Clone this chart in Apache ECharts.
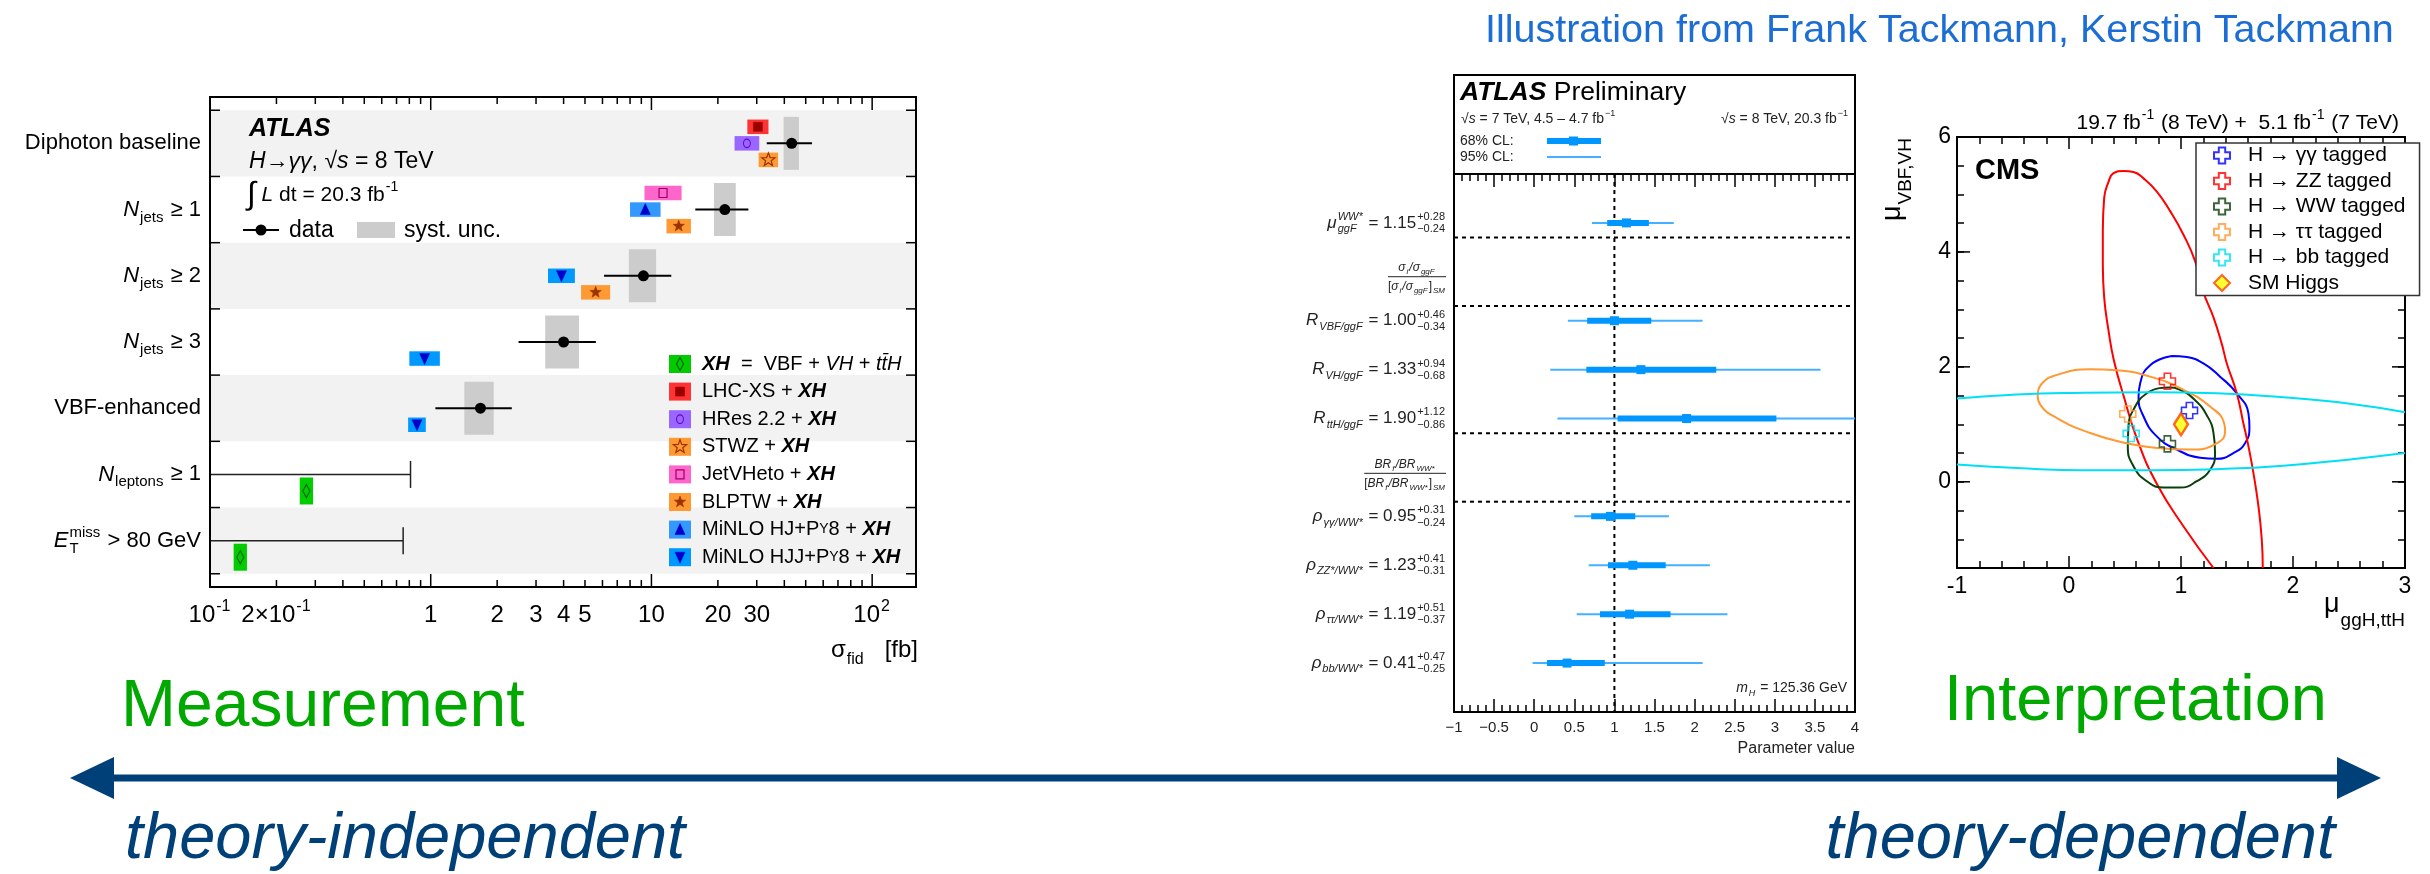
<!DOCTYPE html>
<html>
<head>
<meta charset="utf-8">
<script src="https://cdn.jsdelivr.net/npm/echarts@6/dist/echarts.min.js"></script>
<style>
  html, body { margin: 0; padding: 0; background: #fff; }
  #chart { width: 2430px; height: 874px; }
</style>
</head>
<body>
<div id="chart"></div>
<script>
const FF = '"Liberation Sans", Arial, sans-serif';

// ---------- left: ATLAS H->γγ fiducial cross sections ----------
const fidXMin = 0.1, fidXMax = 158;
const fidRowLabels = [
  ['Diphoton baseline'],
  [{t: 'N', it: 1, sub: 'jets'}, ' ≥ 1'],
  [{t: 'N', it: 1, sub: 'jets'}, ' ≥ 2'],
  [{t: 'N', it: 1, sub: 'jets'}, ' ≥ 3'],
  ['VBF-enhanced'],
  [{t: 'N', it: 1, sub: 'leptons'}, ' ≥ 1'],
  [{t: 'E', it: 1, sup: 'miss', sub: 'T'}, ' > 80 GeV']
];
const fidValue  = [43.2, 21.5, 9.2, 4.0, 1.68, null, null];
const fidTotLo  = [33.3, 15.8, 6.1, 2.5, 1.05, null, null];
const fidTotHi  = [53.4, 27.5, 12.3, 5.6, 2.33, null, null];
const fidSystLo = [39.7, 19.2, 7.9, 3.3, 1.42, null, null];
const fidSystHi = [46.6, 24.1, 10.5, 4.7, 1.93, null, null];
const fidLimit  = [null, null, null, null, null, 0.81, 0.75];

// theory predictions: row, model, low, high
const thModels = ['XH', 'LHC-XS', 'HRes 2.2', 'STWZ', 'JetVHeto', 'BLPTW', 'MiNLO HJ+PY8', 'MiNLO HJJ+PY8'];
const thRow   = [0, 0, 0, 1, 1, 1, 2, 2, 3, 4, 5, 6];
const thModel = [1, 2, 3, 4, 6, 5, 7, 5, 7, 7, 0, 0];
const thLo = [27.2, 23.8, 30.6, 9.3, 8.0, 11.7, 3.4, 4.8, 0.80, 0.79, 0.255, 0.128];
const thHi = [33.9, 30.8, 37.5, 13.7, 11.0, 15.1, 4.5, 6.5, 1.10, 0.95, 0.293, 0.147];

const fidTickVals = [0.1, 0.2, 1, 2, 3, 4, 5, 10, 20, 30, 100];
const fidTickText = [['10', {sup: '-1'}], ['2×10', {sup: '-1'}], ['1'], ['2'], ['3'], ['4'], ['5'],
                     ['10'], ['20'], ['30'], ['10', {sup: '2'}]];

// ---------- middle: ATLAS coupling ratios ----------
const cplNames = [
  [{t: 'μ', it: 1, sup: 'WW*', sub: 'ggF', si: 1}],
  [{t: 'R', it: 1, sub: 'VBF/ggF', si: 1}],
  [{t: 'R', it: 1, sub: 'VH/ggF', si: 1}],
  [{t: 'R', it: 1, sub: 'ttH/ggF', si: 1}],
  [{t: 'ρ', it: 1, sub: 'γγ/WW*', si: 1}],
  [{t: 'ρ', it: 1, sub: 'ZZ*/WW*', si: 1}],
  [{t: 'ρ', it: 1, sub: 'ττ/WW*', si: 1}],
  [{t: 'ρ', it: 1, sub: 'bb/WW*', si: 1}]
];
const cplRow   = [1, 3, 4, 5, 7, 8, 9, 10];
const cplValue = [1.15, 1.00, 1.33, 1.90, 0.95, 1.23, 1.19, 0.41];
const cplErrUp = [0.28, 0.46, 0.94, 1.12, 0.31, 0.41, 0.51, 0.47];
const cplErrDn = [0.24, 0.34, 0.68, 0.86, 0.24, 0.31, 0.37, 0.25];
const cpl95Lo  = [0.72, 0.42, 0.20, 0.29, 0.50, 0.68, 0.53, -0.02];
const cpl95Hi  = [1.74, 2.10, 3.57, 4.30, 1.68, 2.19, 2.41, 2.10];
const cplSeparators = [1.3, 2.7, 5.3, 6.7];
const cplSectionY = [2.1, 6.12];
const cplSectionNum = [
  [{t: 'σ', it: 1, sub: 'i', si: 1}, {t: '/σ', it: 1, sub: 'ggF', si: 1}],
  [{t: 'BR', it: 1, sub: 'f', si: 1}, {t: '/BR', it: 1, sub: 'WW*', si: 1}]
];
const cplSectionDen = [
  ['[', {t: 'σ', it: 1, sub: 'i', si: 1}, {t: '/σ', it: 1, sub: 'ggF', si: 1}, {t: ']', sub: 'SM', si: 1}],
  ['[', {t: 'BR', it: 1, sub: 'f', si: 1}, {t: '/BR', it: 1, sub: 'WW*', si: 1}, {t: ']', sub: 'SM', si: 1}]
];

// ---------- right: CMS μ(ggH,ttH) vs μ(VBF,VH) ----------
const cmsNames = ['H → γγ tagged', 'H → ZZ tagged', 'H → WW tagged', 'H → ττ tagged', 'H → bb tagged'];
const cmsBestX = [1.076, 0.879, 0.879, 0.525, 0.555];
const cmsBestY = [1.24, 1.75, 0.66, 1.18, 0.84];
const cmsGG = [[0.918,2.19],[1.052,2.17],[1.200,2.06],[1.349,1.83],[1.498,1.54],[1.602,1.19],[1.611,0.96],
  [1.572,0.67],[1.468,0.50],[1.319,0.40],[1.171,0.42],[0.963,0.56],[0.784,0.79],[0.665,1.14],[0.621,1.48],
  [0.635,1.71],[0.725,2.03],[0.918,2.19]];
const cmsZZ = [[1.29,-1.50],[1.02,-0.77],[0.78,-0.02],[0.61,0.73],[0.49,1.48],[0.40,2.12],[0.353,2.63],
  [0.314,3.21],[0.302,3.78],[0.302,4.36],[0.314,4.94],[0.353,5.22],[0.398,5.37],[0.487,5.41],[0.576,5.39],
  [0.665,5.28],[0.784,5.05],[0.903,4.71],[1.022,4.30],[1.126,3.84],[1.200,3.30],[1.290,2.86],[1.364,2.40],
  [1.409,2.06],[1.498,1.54],[1.557,1.02],[1.602,0.62],[1.646,0.16],[1.691,-0.42],[1.721,-1.00],[1.730,-1.50]];
const cmsWW = [[0.808,1.63],[0.888,1.64],[0.992,1.60],[1.126,1.42],[1.230,1.16],[1.290,0.85],[1.304,0.50],
  [1.260,0.21],[1.141,0.01],[0.992,-0.10],[0.844,-0.10],[0.695,0.01],[0.576,0.27],[0.525,0.62],[0.531,0.96],
  [0.591,1.31],[0.695,1.54],[0.808,1.63]];
const cmsTT = [[-0.280,1.51],[-0.242,1.71],[-0.108,1.86],[0.189,1.96],[0.427,1.94],[0.725,1.83],[1.022,1.60],
  [1.260,1.31],[1.385,1.02],[1.394,0.88],[1.319,0.67],[1.081,0.56],[0.784,0.59],[0.517,0.67],[0.189,0.85],
  [-0.108,1.11],[-0.256,1.34],[-0.280,1.51]];
const cmsBBtop = [[-1.0,1.45],[-0.465,1.52],[0.130,1.55],[0.725,1.56],[1.319,1.54],[1.914,1.47],[2.509,1.36],[3.0,1.21]];
const cmsBBbot = [[-1.0,0.30],[-0.465,0.24],[0.130,0.20],[0.725,0.20],[1.319,0.22],[1.914,0.28],[2.509,0.39],[3.0,0.50]];
const cmsYMajor = [0, 2, 4, 6];

// ---------- styles ----------
const thFill  = ['#00cc00', '#ff3333', '#9966ff', '#ff9933', '#ff66cc', '#ff9933', '#3399ff', '#0099ff'];
const thMark  = ['#006600', '#990000', '#6600cc', '#993300', '#990066', '#993300', '#0000cc', '#0000cc'];
const thShape = ['diamondO', 'square', 'circleO', 'starO', 'squareO', 'star', 'triUp', 'triDown'];
const thBoxH  = [27, 14.5, 14.5, 14.5, 14.5, 14.5, 14.5, 14.5];
const cmsColors = ['#0000ff', '#ff0000', '#0b3f0b', '#ff9933', '#00dff5'];
const crossPath = 'path://M3,0H7V3H10V7H7V10H3V7H0V3H3Z';

// ---------- text helpers (sub/superscripts) ----------
const mctx = document.createElement('canvas').getContext('2d');
function fontOf(s, it, b) { return (it ? 'italic ' : '') + (b ? 'bold ' : '') + s + 'px ' + FF; }
function textW(t, f) { mctx.font = f; return mctx.measureText(t).width; }
function mathLayout(parts, size) {
  const segs = []; let w = 0;
  const sm = Math.round(size * 0.66);
  parts.forEach(p => {
    if (typeof p === 'string') p = {t: p};
    if (p.t != null) {
      const f = fontOf(p.s || size, p.it, p.b);
      segs.push({t: p.t, f: f, x: w, dy: 0});
      w += textW(p.t, f);
    }
    if (p.sup != null || p.sub != null) {
      const f = fontOf(p.ss || sm, p.si, false);
      let ww = 0;
      if (p.sup != null) { segs.push({t: p.sup, f: f, x: w + 1, dy: -(p.pdy || 0.36 * size)}); ww = textW(p.sup, f); }
      if (p.sub != null) { segs.push({t: p.sub, f: f, x: w + 1, dy: p.bdy || 0.36 * size}); ww = Math.max(ww, textW(p.sub, f)); }
      w += ww + 2;
    }
  });
  return {segs: segs, w: w};
}
function mathEls(parts, ax, ay, align, size, color) {
  const L = mathLayout(parts, size);
  const x0 = align === 'right' ? ax - L.w : (align === 'center' ? ax - L.w / 2 : ax);
  return L.segs.map(s => ({type: 'text', x: x0 + s.x, y: ay + s.dy, silent: true,
    style: {text: s.t, font: s.f, fill: color || '#000', align: 'left', verticalAlign: 'middle'}}));
}
function starPts(cx, cy, R, r) {
  const pts = [];
  for (let k = 0; k < 10; k++) {
    const a = -Math.PI / 2 + k * Math.PI / 5, rr = k % 2 ? r : R;
    pts.push([cx + rr * Math.cos(a), cy + rr * Math.sin(a)]);
  }
  return pts;
}
function thSymbol(shape, cx, cy, c) {
  const open = {fill: 'none', stroke: c, lineWidth: 1.2}, full = {fill: c, stroke: c, lineWidth: 0.5};
  switch (shape) {
    case 'diamondO': return {type: 'polygon', shape: {points: [[cx, cy - 6.5], [cx + 3.5, cy], [cx, cy + 6.5], [cx - 3.5, cy]]}, style: open};
    case 'square':   return {type: 'rect', shape: {x: cx - 4.5, y: cy - 4.5, width: 9, height: 9}, style: full};
    case 'circleO':  return {type: 'circle', shape: {cx: 0, cy: 0, r: 4.3}, x: cx, y: cy, scaleX: 0.8, style: open};
    case 'squareO':  return {type: 'rect', shape: {x: cx - 4, y: cy - 4.5, width: 8, height: 9}, style: open};
    case 'starO':    return {type: 'polygon', shape: {points: starPts(cx, cy, 7, 2.9)}, style: open};
    case 'star':     return {type: 'polygon', shape: {points: starPts(cx, cy, 6, 2.5)}, style: full};
    case 'triUp':    return {type: 'polygon', shape: {points: [[cx, cy - 6], [cx + 5, cy + 5], [cx - 5, cy + 5]]}, style: full};
    default:         return {type: 'polygon', shape: {points: [[cx, cy + 6], [cx + 5, cy - 5], [cx - 5, cy - 5]]}, style: full};
  }
}
const empty = {type: 'group', children: []};
function custom(xi, yi, z, data, renderItem) {
  return {type: 'custom', coordinateSystem: 'cartesian2d', xAxisIndex: xi, yAxisIndex: yi, z: z,
    silent: true, clip: false, data: data, renderItem: renderItem};
}

// ---------- left panel series ----------
const rowIdx = fidRowLabels.map((r, i) => [1, i + 0.5, i]);
const series = [];
series.push(custom(0, 0, 1, rowIdx, (params, api) => {
  const i = api.value(2);
  if (i % 2) return empty;
  const p0 = api.coord([fidXMin, i]), p1 = api.coord([fidXMax, i + 1]);
  return {type: 'rect', shape: {x: p0[0], y: p0[1], width: p1[0] - p0[0], height: p1[1] - p0[1]}, style: {fill: '#f2f2f2'}};
}));
series.push(custom(0, 0, 2, rowIdx, (params, api) => {
  const i = api.value(2);
  if (fidValue[i] == null) return empty;
  const a = api.coord([fidSystLo[i], i + 0.1]), b = api.coord([fidSystHi[i], i + 0.9]);
  return {type: 'rect', shape: {x: a[0], y: a[1], width: b[0] - a[0], height: b[1] - a[1]}, style: {fill: '#cccccc'}};
}));
series.push(custom(0, 0, 3, thLo.map((v, i) => [v, thRow[i] + 0.5, i]), (params, api) => {
  const i = api.value(2), row = thRow[i], m = thModel[i];
  const inRow = thRow.filter(r => r === row).length;
  const k = thRow.slice(0, i).filter(r => r === row).length;
  const y = row + [0.25, 0.5, 0.75][3 - inRow + k];
  const a = api.coord([thLo[i], y]), b = api.coord([thHi[i], y]);
  const h = thBoxH[m];
  return {type: 'group', children: [
    {type: 'rect', shape: {x: a[0], y: a[1] - h / 2, width: b[0] - a[0], height: h}, style: {fill: thFill[m]}},
    thSymbol(thShape[m], (a[0] + b[0]) / 2, a[1], thMark[m])
  ]};
}));
series.push(custom(0, 0, 4, rowIdx, (params, api) => {
  const i = api.value(2), y = i + 0.5;
  if (fidValue[i] != null) {
    const a = api.coord([fidTotLo[i], y]), b = api.coord([fidTotHi[i], y]), c = api.coord([fidValue[i], y]);
    return {type: 'group', children: [
      {type: 'line', shape: {x1: a[0], y1: a[1], x2: b[0], y2: b[1]}, style: {stroke: '#000', lineWidth: 2}},
      {type: 'circle', shape: {cx: c[0], cy: c[1], r: 5.5}, style: {fill: '#000'}}
    ]};
  }
  const a = api.coord([fidXMin, y]), b = api.coord([fidLimit[i], y]);
  return {type: 'group', children: [
    {type: 'line', shape: {x1: a[0], y1: a[1], x2: b[0], y2: b[1]}, style: {stroke: '#222', lineWidth: 1.5}},
    {type: 'line', shape: {x1: b[0], y1: b[1] - 13.5, x2: b[0], y2: b[1] + 13.5}, style: {stroke: '#222', lineWidth: 1.5}}
  ]};
}));
series.push(custom(0, 0, 5, rowIdx, (params, api) => {
  const i = api.value(2), p = api.coord([fidXMin, i + 0.5]);
  return {type: 'group', children: mathEls(fidRowLabels[i], p[0] - 9, p[1], 'right', 22)};
}));
// log axis ticks (top and bottom), row ticks (left and right), frame
const fidTicks = [];
[0.1, 1, 10, 100].forEach(d => {
  fidTicks.push([d, -0.2, 13]);
  for (let k = 2; k <= 9; k++) if (d * k < fidXMax) fidTicks.push([+(d * k).toFixed(3), -0.2, 7]);
});
series.push(custom(0, 0, 10, fidTicks, (params, api) => {
  const v = api.value(0), L = api.value(2);
  const b = api.coord([v, 7.2]), t = api.coord([v, -0.2]);
  return {type: 'group', children: [
    {type: 'line', shape: {x1: b[0], y1: b[1], x2: b[0], y2: b[1] - L}, style: {stroke: '#000', lineWidth: 1.5}},
    {type: 'line', shape: {x1: t[0], y1: t[1], x2: t[0], y2: t[1] + L}, style: {stroke: '#000', lineWidth: 1.5}}
  ]};
}));
series.push(custom(0, 0, 10, [0, 1, 2, 3, 4, 5, 6, 7].map(k => [1, k, k]), (params, api) => {
  const k = api.value(2), l = api.coord([fidXMin, k]), r = api.coord([fidXMax, k]);
  return {type: 'group', children: [
    {type: 'line', shape: {x1: l[0], y1: l[1], x2: l[0] + 10, y2: l[1]}, style: {stroke: '#000', lineWidth: 1.5}},
    {type: 'line', shape: {x1: r[0], y1: r[1], x2: r[0] - 10, y2: r[1]}, style: {stroke: '#000', lineWidth: 1.5}}
  ]};
}));
series.push(custom(0, 0, 10, fidTickVals.map((v, i) => [v, 7.2, i]), (params, api) => {
  const i = api.value(2), p = api.coord([fidTickVals[i], 7.2]);
  return {type: 'group', children: mathEls(fidTickText[i], p[0], p[1] + 28, 'center', 24)};
}));
series.push(custom(0, 0, 11, [[1, 1, 0]], (params) => {
  const c = params.coordSys;
  return {type: 'rect', shape: {x: c.x, y: c.y, width: c.width, height: c.height}, style: {fill: 'none', stroke: '#000', lineWidth: 2}};
}));

// ---------- middle panel series ----------
series.push(custom(1, 1, 2, [[1, 0, 0]], (params, api) => {
  const a = api.coord([1, 0]), b = api.coord([1, 11]);
  return {type: 'line', shape: {x1: a[0], y1: a[1], x2: b[0], y2: b[1]}, style: {stroke: '#000', lineWidth: 2, lineDash: [4, 4]}};
}));
series.push(custom(1, 1, 2, cplSeparators.map(y => [-1, y]), (params, api) => {
  const a = api.coord([-1, api.value(1)]), b = api.coord([4, api.value(1)]);
  return {type: 'line', shape: {x1: a[0], y1: a[1], x2: b[0], y2: b[1]}, style: {stroke: '#000', lineWidth: 2, lineDash: [4, 4]}};
}));
series.push(custom(1, 1, 3, cplValue.map((v, i) => [v, cplRow[i], i]), (params, api) => {
  const i = api.value(2), y = cplRow[i];
  const a = api.coord([Math.max(cpl95Lo[i], -1), y]), b = api.coord([Math.min(cpl95Hi[i], 4), y]);
  const c = api.coord([cplValue[i] - cplErrDn[i], y]), d = api.coord([cplValue[i] + cplErrUp[i], y]);
  const m = api.coord([cplValue[i], y]);
  return {type: 'group', children: [
    {type: 'line', shape: {x1: a[0], y1: a[1], x2: b[0], y2: b[1]}, style: {stroke: '#45b0ff', lineWidth: 2}},
    {type: 'rect', shape: {x: c[0], y: c[1] - 3, width: d[0] - c[0], height: 6}, style: {fill: '#0096ff'}},
    {type: 'rect', shape: {x: m[0] - 4.5, y: m[1] - 4.5, width: 9, height: 9}, style: {fill: '#0096ff'}}
  ]};
}));
series.push(custom(1, 1, 5, cplValue.map((v, i) => [-1, cplRow[i], i]), (params, api) => {
  const i = api.value(2), p = api.coord([-1, cplRow[i]]);
  const parts = cplNames[i].concat([' = ' + cplValue[i].toFixed(2),
    {sup: '+' + cplErrUp[i].toFixed(2), sub: '−' + cplErrDn[i].toFixed(2)}]);
  return {type: 'group', children: mathEls(parts, p[0] - 8, p[1], 'right', 17, '#222')};
}));
series.push(custom(1, 1, 5, cplSectionY.map((y, k) => [-1, y, k]), (params, api) => {
  const k = api.value(2), p = api.coord([-1, cplSectionY[k]]), xr = p[0] - 8;
  const w = Math.max(mathLayout(cplSectionNum[k], 12).w, mathLayout(cplSectionDen[k], 12).w);
  return {type: 'group', children: [
    {type: 'line', shape: {x1: xr - w, y1: p[1], x2: xr, y2: p[1]}, style: {stroke: '#222', lineWidth: 1}}
  ].concat(mathEls(cplSectionNum[k], xr - w / 2, p[1] - 9, 'center', 12, '#222'),
           mathEls(cplSectionDen[k], xr - w / 2, p[1] + 10, 'center', 12, '#222'))};
}));

// ---------- right panel series ----------
[[cmsGG, 0], [cmsZZ, 1], [cmsWW, 2], [cmsTT, 3], [cmsBBtop, 4], [cmsBBbot, 4]].forEach(([d, k], j) => {
  series.push({type: 'line', name: 'contour ' + j, xAxisIndex: 3, yAxisIndex: 3, data: d, smooth: 0.5,
    symbol: 'none', silent: true, z: 2, lineStyle: {color: cmsColors[k], width: 2}});
});
cmsNames.forEach((n, k) => {
  series.push({type: 'scatter', name: n, xAxisIndex: 3, yAxisIndex: 3, data: [[cmsBestX[k], cmsBestY[k]]],
    symbol: crossPath, symbolSize: 16, z: 3, silent: true,
    itemStyle: {color: 'rgba(255,255,255,0)', borderColor: cmsColors[k], borderWidth: 1.6}});
});
series.push({type: 'scatter', name: 'SM Higgs', xAxisIndex: 3, yAxisIndex: 3, data: [[1, 1]],
  symbol: 'diamond', symbolSize: [14, 22], z: 3, silent: true,
  itemStyle: {color: '#ffff00', borderColor: '#ff4000', borderWidth: 2.5}});
series.push(custom(3, 3, 4, cmsYMajor.map(v => [-1, v]), (params, api) => {
  const l = api.coord([-1, api.value(1)]), r = api.coord([3, api.value(1)]);
  return {type: 'group', children: [
    {type: 'line', shape: {x1: l[0], y1: l[1], x2: l[0] + 13, y2: l[1]}, style: {stroke: '#000', lineWidth: 1.5}},
    {type: 'line', shape: {x1: r[0], y1: r[1], x2: r[0] - 13, y2: r[1]}, style: {stroke: '#000', lineWidth: 1.5}}
  ]};
}));

// ---------- annotations ----------
const g = [];
function addText(parts, x, y, align, size, color) { mathEls(parts, x, y, align, size, color).forEach(e => { e.z = 100; g.push(e); }); }
addText(['Illustration from Frank Tackmann, Kerstin Tackmann'], 1485, 31, 'left', 39.5, '#1c6ed4');
// left panel header
addText([{t: 'ATLAS', it: 1, b: 1}], 249, 129, 'left', 25);
addText([{t: 'H', it: 1}, '→', {t: 'γγ', it: 1}, ', √', {t: 's', it: 1}, ' = 8 TeV'], 249, 162, 'left', 23);
addText([{t: '∫', s: 32}, ' ', {t: 'L', it: 1}, ' dt = 20.3 fb', {sup: '-1'}], 247, 195, 'left', 21);
g.push({type: 'line', z: 100, shape: {x1: 243, y1: 230, x2: 279, y2: 230}, style: {stroke: '#000', lineWidth: 2}});
g.push({type: 'circle', z: 100, shape: {cx: 261, cy: 230, r: 5.5}, style: {fill: '#000'}});
addText(['data'], 289, 231, 'left', 23);
g.push({type: 'rect', z: 100, shape: {x: 357, y: 222, width: 38, height: 16}, style: {fill: '#cccccc'}});
addText(['syst. unc.'], 404, 231, 'left', 23);
const XH = {t: 'XH', it: 1, b: 1};
const thLegend = [
  [XH, '  =  VBF + ', {t: 'VH', it: 1}, ' + ', {t: 'tt̄H', it: 1}],
  ['LHC-XS + ', XH], ['HRes 2.2 + ', XH], ['STWZ + ', XH], ['JetVHeto + ', XH], ['BLPTW + ', XH],
  ['MiNLO HJ+P', {t: 'Y', s: 14}, '8 + ', XH], ['MiNLO HJJ+P', {t: 'Y', s: 14}, '8 + ', XH]
];
thLegend.forEach((parts, k) => {
  const y = 364 + k * 27.6;
  g.push({type: 'rect', z: 100, shape: {x: 669, y: y - 9, width: 22, height: 18}, style: {fill: thFill[k]}});
  const s = thSymbol(thShape[k], 680, y, thMark[k]); s.z = 101; g.push(s);
  addText(parts, 702, y, 'left', 20);
});
addText([{t: 'σ', sub: 'fid', ss: 16, bdy: 10}, '   [fb]'], 918, 650, 'right', 24);
// middle panel header
g.push({type: 'rect', z: 100, shape: {x: 1454, y: 75, width: 401, height: 99}, style: {fill: 'none', stroke: '#000', lineWidth: 2}});
addText([{t: 'ATLAS', it: 1, b: 1}, ' Preliminary'], 1460, 93, 'left', 26.5);
addText(['√', {t: 's', it: 1}, ' = 7 TeV, 4.5 – 4.7 fb', {sup: '−1'}], 1461, 119, 'left', 14, '#222');
addText(['√', {t: 's', it: 1}, ' = 8 TeV, 20.3 fb', {sup: '−1'}], 1849, 119, 'right', 14, '#222');
addText(['68% CL:'], 1460, 141, 'left', 14, '#222');
addText(['95% CL:'], 1460, 157, 'left', 14, '#222');
g.push({type: 'rect', z: 100, shape: {x: 1547, y: 138, width: 54, height: 6}, style: {fill: '#0096ff'}});
g.push({type: 'rect', z: 100, shape: {x: 1569, y: 136.5, width: 9, height: 9}, style: {fill: '#0096ff'}});
g.push({type: 'line', z: 100, shape: {x1: 1547, y1: 157, x2: 1601, y2: 157}, style: {stroke: '#45b0ff', lineWidth: 2}});
addText([{t: 'm', it: 1, sub: 'H', si: 1}, ' = 125.36 GeV'], 1847, 688, 'right', 14, '#222');
addText(['Parameter value'], 1855, 749, 'right', 16, '#222');
// right panel header and titles
addText([{t: 'CMS', b: 1}], 1975, 171, 'left', 29);
addText(['19.7 fb', {sup: '-1'}, ' (8 TeV) +  5.1 fb', {sup: '-1'}, ' (7 TeV)'], 2399, 123, 'right', 21);
addText([{t: 'μ', sub: 'ggH,ttH', ss: 19, bdy: 16}], 2406, 605, 'right', 27);
g.push({type: 'group', z: 100, x: 1893, y: 137, rotation: Math.PI / 2,
  children: mathEls([{t: 'μ', sub: 'VBF,VH', ss: 19, bdy: 13}], 0, 0, 'right', 27).map(e => { e.z = 100; return e; })});
// bottom: measurement <-> interpretation arrow
addText(['Measurement'], 121, 708, 'left', 66, '#00a800');
addText(['Interpretation'], 1944, 702, 'left', 65, '#00a800');
g.push({type: 'line', z: 100, shape: {x1: 110, y1: 778, x2: 2341, y2: 778}, style: {stroke: '#004078', lineWidth: 7}});
g.push({type: 'polygon', z: 100, shape: {points: [[70, 778], [114, 757], [114, 799]]}, style: {fill: '#004078'}});
g.push({type: 'polygon', z: 100, shape: {points: [[2381, 778], [2337, 757], [2337, 799]]}, style: {fill: '#004078'}});
addText([{t: 'theory-independent', it: 1}], 125, 840, 'left', 65, '#004078');
addText([{t: 'theory-dependent', it: 1}], 2335, 840, 'right', 65, '#004078');

// ---------- axes ----------
const blk = {color: '#000', width: 2};
const tick = (len) => ({show: true, inside: true, length: len, lineStyle: {color: '#000', width: 1.5}});
const minus = v => (v < 0 ? '−' + (-v) : String(v));

const option = {
  animation: false,
  backgroundColor: '#fff',
  textStyle: {fontFamily: FF},
  grid: [
    {left: 210, top: 97, width: 706, height: 490, containLabel: false, outerBoundsMode: 'none'},
    {left: 1454, top: 174, width: 401, height: 538, containLabel: false, outerBoundsMode: 'none'},
    {left: 1957, top: 137, width: 448, height: 431, containLabel: false, outerBoundsMode: 'none'}
  ],
  xAxis: [
    {gridIndex: 0, type: 'log', logBase: 10, min: fidXMin, max: fidXMax, show: false},
    {gridIndex: 1, type: 'value', min: -1, max: 4, interval: 0.5, position: 'bottom',
      axisLine: {onZero: false, lineStyle: blk}, axisTick: tick(13),
      minorTick: {show: true, splitNumber: 5, length: 7, lineStyle: {color: '#000', width: 1.5}},
      axisLabel: {fontSize: 15, color: '#222', margin: 8, fontFamily: FF, formatter: minus},
      splitLine: {show: false}, minorSplitLine: {show: false}},
    {gridIndex: 1, type: 'value', min: -1, max: 4, interval: 0.5, position: 'top',
      axisLine: {onZero: false, lineStyle: blk}, axisTick: tick(13),
      minorTick: {show: true, splitNumber: 5, length: 7, lineStyle: {color: '#000', width: 1.5}},
      axisLabel: {show: false}, splitLine: {show: false}, minorSplitLine: {show: false}},
    {gridIndex: 2, type: 'value', min: -1, max: 3, interval: 1, position: 'bottom',
      axisLine: {onZero: false, lineStyle: blk}, axisTick: tick(12),
      minorTick: {show: true, splitNumber: 5, length: 7, lineStyle: {color: '#000', width: 1.5}},
      axisLabel: {fontSize: 23, color: '#000', margin: 7, fontFamily: FF},
      splitLine: {show: false}, minorSplitLine: {show: false}},
    {gridIndex: 2, type: 'value', min: -1, max: 3, interval: 1, position: 'top',
      axisLine: {onZero: false, lineStyle: blk}, axisTick: tick(12),
      minorTick: {show: true, splitNumber: 5, length: 7, lineStyle: {color: '#000', width: 1.5}},
      axisLabel: {show: false}, splitLine: {show: false}, minorSplitLine: {show: false}}
  ],
  yAxis: [
    {gridIndex: 0, type: 'value', min: -0.2, max: 7.2, inverse: true, show: false},
    {gridIndex: 1, type: 'value', min: 0, max: 11, inverse: true, position: 'left',
      axisLine: {show: true, onZero: false, lineStyle: blk}, axisTick: {show: false}, axisLabel: {show: false}, splitLine: {show: false}},
    {gridIndex: 1, type: 'value', min: 0, max: 11, inverse: true, position: 'right',
      axisLine: {show: true, onZero: false, lineStyle: blk}, axisTick: {show: false}, axisLabel: {show: false}, splitLine: {show: false}},
    {gridIndex: 2, type: 'value', min: -1.5, max: 6, interval: 0.5, position: 'left',
      axisLine: {show: true, onZero: false, lineStyle: blk}, axisTick: tick(7),
      axisLabel: {fontSize: 23, color: '#000', margin: 6, fontFamily: FF,
        formatter: v => (Math.abs(v % 2) < 1e-9 ? String(v) : '')},
      splitLine: {show: false}},
    {gridIndex: 2, type: 'value', min: -1.5, max: 6, interval: 0.5, position: 'right',
      axisLine: {show: true, onZero: false, lineStyle: blk}, axisTick: tick(7),
      axisLabel: {show: false}, splitLine: {show: false}}
  ],
  legend: [{
    data: cmsNames.concat(['SM Higgs']), orient: 'vertical', left: 2196, top: 143,
    padding: [2, 14, 2, 17], itemGap: 4.5, itemWidth: 16, itemHeight: 16,
    backgroundColor: '#fff', borderColor: '#333', borderWidth: 1.5, borderRadius: 0,
    selectedMode: false, z: 20,
    textStyle: {fontSize: 21, color: '#000', fontFamily: FF, padding: [0, 0, 0, 13]}
  }],
  graphic: {elements: g},
  series: series
};

const chart = echarts.init(document.getElementById('chart'));
chart.setOption(option);
</script>
</body>
</html>
